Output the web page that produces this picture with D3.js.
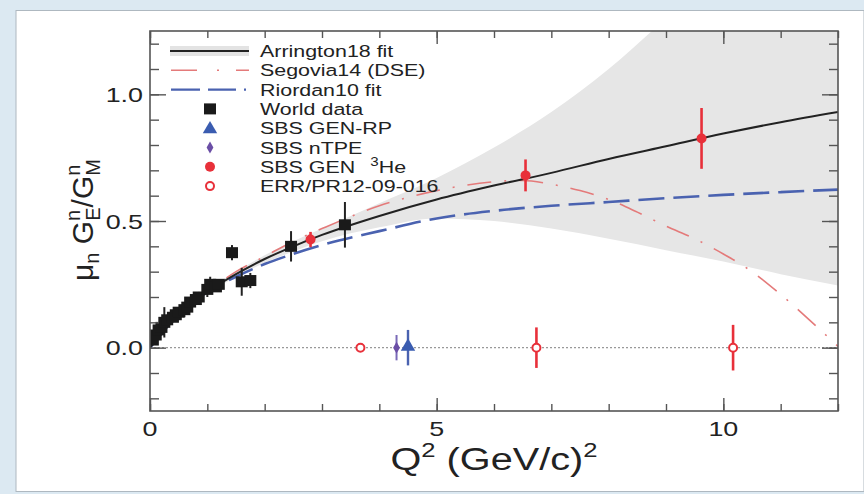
<!DOCTYPE html>
<html>
<head>
<meta charset="utf-8">
<script src="https://cdn.jsdelivr.net/npm/d3@7"></script>
<style>
  body { margin: 0; background: #dce9f2; }
  svg { display: block; }
  text { font-family: "Liberation Sans", Arial, Helvetica, sans-serif; fill: #222; }
</style>
</head>
<body>
<div id="chart"></div>
<script>
// fit curves
const fitQ2 = [0, 0.5, 1, 1.5, 2, 2.5, 3, 4, 5, 6, 7, 8, 9, 10, 11, 12];
const arrington = [0, 0.13, 0.22, 0.29, 0.35, 0.40, 0.445, 0.52, 0.585, 0.64, 0.69, 0.745, 0.795, 0.845, 0.89, 0.93];
const bandLow = [0, 0.125, 0.21, 0.28, 0.335, 0.38, 0.42, 0.475, 0.51, 0.5, 0.47, 0.43, 0.385, 0.34, 0.29, 0.245];
const bandHigh = [0, 0.135, 0.23, 0.30, 0.365, 0.42, 0.47, 0.57, 0.67, 0.79, 0.93, 1.10, 1.30, 1.50, 1.70, 1.90];
const riordan = [0, 0.13, 0.22, 0.28, 0.33, 0.37, 0.405, 0.46, 0.51, 0.54, 0.56, 0.575, 0.59, 0.603, 0.614, 0.624];
const segoviaQ2 = [0, 0.5, 1, 1.5, 2, 2.5, 3, 4, 5, 6, 6.5, 7, 7.5, 8, 8.5, 9, 9.5, 10, 10.5, 11, 11.5, 12];
const segovia = [0, 0.13, 0.22, 0.30, 0.36, 0.42, 0.47, 0.56, 0.62, 0.655, 0.66, 0.645, 0.62, 0.585, 0.535, 0.48, 0.43, 0.37, 0.30, 0.21, 0.11, 0.005];

// world data: Q2, value, error
const worldQ2 = [0.05, 0.1, 0.15, 0.2, 0.25, 0.3, 0.4, 0.45, 0.5, 0.6, 0.65, 0.7, 0.8, 0.85, 1.0, 1.05, 1.15, 1.2, 1.43, 1.6, 1.75, 2.46, 3.4];
const worldVal = [0.03, 0.05, 0.07, 0.08, 0.10, 0.11, 0.12, 0.13, 0.14, 0.15, 0.16, 0.18, 0.19, 0.20, 0.23, 0.25, 0.24, 0.25, 0.375, 0.26, 0.265, 0.40, 0.485];
const worldErr = [0.02, 0.02, 0.02, 0.03, 0.06, 0.02, 0.02, 0.02, 0.02, 0.03, 0.02, 0.02, 0.02, 0.02, 0.03, 0.03, 0.02, 0.02, 0.03, 0.055, 0.03, 0.06, 0.09];

const he3Q2 = [2.8, 6.55, 9.62];
const he3Val = [0.427, 0.68, 0.826];
const he3Err = [0.03, 0.063, 0.12];

const errQ2 = [3.67, 6.74, 10.17];
const errErr = [0, 0.08, 0.09];

const rpQ2 = [4.5], rpErr = [0.07];
const tpeQ2 = [4.3], tpeErr = [0.05];

const legendLabels = ["Arrington18 fit", "Segovia14 (DSE)", "Riordan10 fit", "World data",
  "SBS GEN-RP", "SBS nTPE", "SBS GEN", "ERR/PR12-09-016"];

const xTicks = [0, 5, 10];
const yTicks = [0.0, 0.5, 1.0];

const W = 864, H = 494;
const red = "#e8303a", pink = "#e47a7a", blue = "#4a62b0", purple = "#6b4ea6";
const sx = 1.28; // the picture is stretched sideways

const svg = d3.select("#chart").append("svg").attr("width", W).attr("height", H);

// page frame
svg.append("rect").attr("x", 0).attr("y", 0).attr("width", W).attr("height", H).attr("fill", "#dce9f2");
svg.append("rect").attr("x", 16).attr("y", 10.5).attr("width", W - 16).attr("height", 481)
  .attr("fill", "#fff").attr("stroke", "#aeb8c0").attr("stroke-width", 1);

const x = d3.scaleLinear().domain([0, 12]).range([150, 838]);
const y = d3.scaleLinear().domain([-0.25, 1.25]).range([411, 31]);

svg.append("clipPath").attr("id", "plot").append("rect")
  .attr("x", 150).attr("y", 31).attr("width", 688).attr("height", 380);
const g = svg.append("g").attr("clip-path", "url(#plot)");

// error band
g.append("path")
  .datum(fitQ2.map((q, i) => [q, bandLow[i], bandHigh[i]]))
  .attr("fill", "#e6e6e6")
  .attr("d", d3.area().curve(d3.curveMonotoneX)
    .x(d => x(d[0])).y0(d => y(d[1])).y1(d => y(d[2])));

// zero line
g.append("line").attr("x1", x(0)).attr("x2", x(12)).attr("y1", y(0)).attr("y2", y(0))
  .attr("stroke", "#999").attr("stroke-width", 1.3).attr("stroke-dasharray", "2,2");

const line = d3.line().curve(d3.curveMonotoneX).x(d => x(d[0])).y(d => y(d[1]));
g.append("path").datum(segoviaQ2.map((q, i) => [q, segovia[i]]))
  .attr("d", line).attr("fill", "none").attr("stroke", pink).attr("stroke-width", 1.6)
  .attr("stroke-dasharray", "24,13,2,13");
g.append("path").datum(fitQ2.map((q, i) => [q, riordan[i]]))
  .attr("d", line).attr("fill", "none").attr("stroke", blue).attr("stroke-width", 2.6)
  .attr("stroke-dasharray", "26,9");
g.append("path").datum(fitQ2.map((q, i) => [q, arrington[i]]))
  .attr("d", line).attr("fill", "none").attr("stroke", "#222").attr("stroke-width", 2);

// error bars helper
function bars(qs, vs, es, color, w) {
  g.append("g").selectAll("line").data(qs).join("line")
    .attr("x1", d => x(d)).attr("x2", d => x(d))
    .attr("y1", (d, i) => y(vs[i] - es[i])).attr("y2", (d, i) => y(vs[i] + es[i]))
    .attr("stroke", color).attr("stroke-width", w);
}

// world data
bars(worldQ2, worldVal, worldErr, "#222", 2);
g.append("g").selectAll("rect").data(worldQ2).join("rect")
  .attr("x", d => x(d) - 6).attr("y", (d, i) => y(worldVal[i]) - 5.5)
  .attr("width", 12).attr("height", 11).attr("fill", "#1a1a1a");

// 3He
bars(he3Q2, he3Val, he3Err, red, 2.6);
g.append("g").selectAll("circle").data(he3Q2).join("circle")
  .attr("cx", d => x(d)).attr("cy", (d, i) => y(he3Val[i])).attr("r", 5).attr("fill", red);

// ERR projections
bars(errQ2, errQ2.map(() => 0), errErr, red, 2.6);
g.append("g").selectAll("circle").data(errQ2).join("circle")
  .attr("cx", d => x(d)).attr("cy", y(0)).attr("r", 4).attr("fill", "#fff")
  .attr("stroke", red).attr("stroke-width", 2);

// nTPE
bars(tpeQ2, [0], tpeErr, "#7a6ab8", 2);
g.append("g").selectAll("path").data(tpeQ2).join("path")
  .attr("transform", d => `translate(${x(d)},${y(0)})`)
  .attr("d", d3.symbol(d3.symbolDiamond, 40)).attr("fill", purple);

// GEN-RP
bars(rpQ2, [0], rpErr, blue, 2.4);
g.append("g").selectAll("path").data(rpQ2).join("path")
  .attr("transform", d => `translate(${x(d)},${y(0) - 1})`)
  .attr("d", d3.symbol(d3.symbolTriangle, 90)).attr("fill", "#3a5cb0");

// axes with inward ticks
const axisColor = "#555";
function ticks(axis, tx, size) {
  const a = svg.append("g").attr("transform", tx).call(axis.tickSize(size).tickFormat(""));
  a.select(".domain").remove();
  a.selectAll("line").attr("stroke", axisColor).attr("stroke-width", 1.4);
  return a;
}
const xMinor = d3.range(0, 13), yMinor = d3.range(-2, 13).map(d => d / 10);
ticks(d3.axisBottom(x).tickValues(xMinor), "translate(0,411)", -7);
ticks(d3.axisBottom(x).tickValues(xTicks), "translate(0,411)", -13);
ticks(d3.axisTop(x).tickValues(xMinor), "translate(0,31)", -7);
ticks(d3.axisTop(x).tickValues(xTicks), "translate(0,31)", -13);
ticks(d3.axisLeft(y).tickValues(yMinor), "translate(150,0)", -9);
ticks(d3.axisLeft(y).tickValues(yTicks), "translate(150,0)", -16);
ticks(d3.axisRight(y).tickValues(yMinor), "translate(838,0)", -9);
ticks(d3.axisRight(y).tickValues(yTicks), "translate(838,0)", -16);

svg.append("rect").attr("x", 150).attr("y", 31).attr("width", 688).attr("height", 380)
  .attr("fill", "none").attr("stroke", axisColor).attr("stroke-width", 1.6);

// tick labels
svg.append("g").selectAll("text").data(xTicks).join("text")
  .attr("transform", d => `translate(${x(d)},436) scale(${sx},1)`)
  .attr("text-anchor", "middle").attr("font-size", 21).text(d => d);
svg.append("g").selectAll("text").data(yTicks).join("text")
  .attr("transform", d => `translate(143,${y(d)}) scale(${sx},1)`)
  .attr("text-anchor", "end").attr("dy", "0.36em").attr("font-size", 21).text(d3.format(".1f"));

// axis titles
const xl = svg.append("text")
  .attr("transform", `translate(494,470) scale(${sx},1)`)
  .attr("text-anchor", "middle").attr("font-size", 31);
xl.append("tspan").text("Q");
xl.append("tspan").attr("font-size", 20).attr("dy", -13).text("2");
xl.append("tspan").attr("dy", 13).text(" (GeV/c)");
xl.append("tspan").attr("font-size", 20).attr("dy", -13).text("2");

const yl = svg.append("text")
  .attr("transform", "translate(93,220) rotate(-90)")
  .attr("text-anchor", "middle").attr("font-size", 30);
yl.append("tspan").text("μ");
yl.append("tspan").attr("font-size", 20).attr("dy", 6).text("n");
yl.append("tspan").attr("dy", -6).text(" G");
yl.append("tspan").attr("font-size", 20).attr("dy", -13).text("n");
yl.append("tspan").attr("font-size", 20).attr("dx", -11).attr("dy", 20).text("E");
yl.append("tspan").attr("dy", -7).text("/G");
yl.append("tspan").attr("font-size", 20).attr("dy", -13).text("n");
yl.append("tspan").attr("font-size", 20).attr("dx", -11).attr("dy", 20).text("M");

// legend
const rowY = legendLabels.map((d, i) => 51 + i * 19.3);
const lg = svg.append("g");
lg.append("rect").attr("x", 170).attr("y", rowY[0] - 5).attr("width", 79).attr("height", 10).attr("fill", "#e3e3e3");
lg.append("line").attr("x1", 170).attr("x2", 249).attr("y1", rowY[0]).attr("y2", rowY[0])
  .attr("stroke", "#222").attr("stroke-width", 2);
lg.append("line").attr("x1", 171).attr("x2", 249).attr("y1", rowY[1]).attr("y2", rowY[1])
  .attr("stroke", pink).attr("stroke-width", 1.6).attr("stroke-dasharray", "26,20,2,17");
lg.append("line").attr("x1", 171).attr("x2", 249).attr("y1", rowY[2]).attr("y2", rowY[2])
  .attr("stroke", blue).attr("stroke-width", 2.4).attr("stroke-dasharray", "29,8,28,8,2");
lg.append("rect").attr("x", 204).attr("y", rowY[3] - 5.5).attr("width", 12).attr("height", 11).attr("fill", "#1a1a1a");
lg.append("path").attr("transform", `translate(210,${rowY[4] + 1})`)
  .attr("d", d3.symbol(d3.symbolTriangle, 90)).attr("fill", "#3a5cb0");
lg.append("path").attr("transform", `translate(210,${rowY[5]})`)
  .attr("d", d3.symbol(d3.symbolDiamond, 40)).attr("fill", purple);
lg.append("circle").attr("cx", 210).attr("cy", rowY[6]).attr("r", 5).attr("fill", red);
lg.append("circle").attr("cx", 210).attr("cy", rowY[7]).attr("r", 4).attr("fill", "#fff")
  .attr("stroke", red).attr("stroke-width", 2);

lg.selectAll("text.lab").data(legendLabels).join("text").attr("class", "lab")
  .attr("transform", (d, i) => `translate(260,${rowY[i] + 6}) scale(1.26,1)`)
  .attr("font-size", 17)
  .each(function (d, i) {
    const t = d3.select(this);
    t.text(d);
    if (i === 6) {
      t.append("tspan").attr("dx", 12).attr("dy", -7).attr("font-size", 12).text("3");
      t.append("tspan").attr("dy", 7).text("He");
    }
  });
</script>
</body>
</html>
